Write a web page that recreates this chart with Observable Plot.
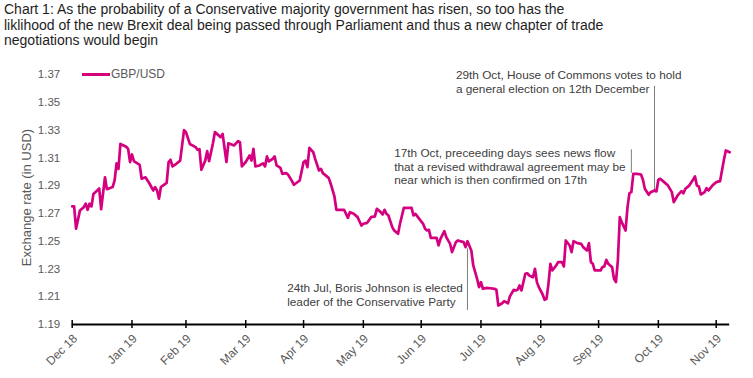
<!DOCTYPE html>
<html><head><meta charset="utf-8">
<script src="https://cdn.jsdelivr.net/npm/d3@7"></script>
<script src="https://cdn.jsdelivr.net/npm/@observablehq/plot@0.6"></script>
<style>
body{margin:0;background:#fff;font-family:Arial,"Liberation Sans",sans-serif;}
#wrap{position:relative;width:753px;height:378px;overflow:hidden;background:#fff;}
#title{height:58px;box-sizing:border-box;padding:2px 0 0 4px;font-size:14px;line-height:15.5px;color:#1e1e1e;white-space:nowrap;}
#legend{position:absolute;left:82px;top:67px;height:14px;font-size:12px;line-height:14px;color:#595959;}
#legend .sw{position:absolute;left:0;top:5.8px;width:27.6px;height:3px;background:#d4007f;}
#legend .lb{position:absolute;left:29px;top:0;white-space:nowrap;}
</style>
</head><body>
<div id="wrap">
<div id="title"></div>
<div id="chart"></div>
<div id="legend"><div class="sw"></div><div class="lb"></div></div>
</div>
<script>
const titleLines = [
  "Chart 1: As the probability of a Conservative majority government has risen, so too has the",
  "liklihood of the new Brexit deal being passed through Parliament and thus a new chapter of trade",
  "negotiations would begin"
];
const seriesName = "GBP/USD";
const dates = ["2018-12-31","2019-01-01","2019-01-02","2019-01-04","2019-01-06","2019-01-07","2019-01-08","2019-01-09","2019-01-10","2019-01-11",
"2019-01-13","2019-01-14","2019-01-15","2019-01-17","2019-01-18","2019-01-21","2019-01-22","2019-01-23","2019-01-24","2019-01-25",
"2019-01-28","2019-01-29","2019-01-30","2019-01-31","2019-02-01","2019-02-04","2019-02-05","2019-02-07","2019-02-09","2019-02-11",
"2019-02-12","2019-02-13","2019-02-14","2019-02-15","2019-02-16","2019-02-18","2019-02-19","2019-02-20","2019-02-21","2019-02-23",
"2019-02-25","2019-02-27","2019-02-28","2019-03-02","2019-03-05","2019-03-06","2019-03-07","2019-03-08","2019-03-10","2019-03-11",
"2019-03-12","2019-03-14","2019-03-15","2019-03-18","2019-03-19","2019-03-21","2019-03-22","2019-03-25","2019-03-27","2019-03-28",
"2019-03-29","2019-03-31","2019-04-02","2019-04-03","2019-04-04","2019-04-05","2019-04-07","2019-04-09","2019-04-10","2019-04-11",
"2019-04-12","2019-04-14","2019-04-15","2019-04-16","2019-04-18","2019-04-19","2019-04-21","2019-04-22","2019-04-24","2019-04-25",
"2019-04-28","2019-04-30","2019-05-01","2019-05-02","2019-05-03","2019-05-05","2019-05-06","2019-05-08","2019-05-09","2019-05-10",
"2019-05-13","2019-05-14","2019-05-16","2019-05-17","2019-05-20","2019-05-21","2019-05-23","2019-05-24","2019-05-26","2019-05-28",
"2019-05-30","2019-05-31","2019-06-02","2019-06-04","2019-06-06","2019-06-07","2019-06-09","2019-06-10","2019-06-11","2019-06-12",
"2019-06-13","2019-06-15","2019-06-16","2019-06-18","2019-06-19","2019-06-21","2019-06-22","2019-06-25","2019-06-26","2019-06-27",
"2019-06-29","2019-07-01","2019-07-02","2019-07-03","2019-07-04","2019-07-05","2019-07-07","2019-07-08","2019-07-09","2019-07-10",
"2019-07-12","2019-07-13","2019-07-15","2019-07-16","2019-07-18","2019-07-19","2019-07-22","2019-07-23","2019-07-24","2019-07-26",
"2019-07-27","2019-07-29","2019-07-30","2019-07-31","2019-08-01","2019-08-03","2019-08-05","2019-08-07","2019-08-08","2019-08-09",
"2019-08-11","2019-08-12","2019-08-14","2019-08-15","2019-08-17","2019-08-18","2019-08-19","2019-08-20","2019-08-21","2019-08-23",
"2019-08-24","2019-08-25","2019-08-27","2019-08-28","2019-08-29","2019-08-30","2019-09-01","2019-09-02","2019-09-03","2019-09-04",
"2019-09-05","2019-09-06","2019-09-08","2019-09-09","2019-09-11","2019-09-12","2019-09-13","2019-09-15","2019-09-16","2019-09-17",
"2019-09-19","2019-09-21","2019-09-22","2019-09-24","2019-09-25","2019-09-26","2019-09-27","2019-09-28","2019-09-29","2019-10-01",
"2019-10-02","2019-10-03","2019-10-04","2019-10-05","2019-10-06","2019-10-07","2019-10-08","2019-10-09","2019-10-10","2019-10-11",
"2019-10-12","2019-10-14","2019-10-15","2019-10-16","2019-10-17","2019-10-18","2019-10-20","2019-10-22","2019-10-23","2019-10-24",
"2019-10-26","2019-10-27","2019-10-29","2019-10-30","2019-10-31","2019-11-01","2019-11-03","2019-11-05","2019-11-07","2019-11-08",
"2019-11-10","2019-11-12","2019-11-13","2019-11-14","2019-11-16","2019-11-18","2019-11-19","2019-11-20","2019-11-21","2019-11-22",
"2019-11-24","2019-11-25","2019-11-26","2019-11-28","2019-11-30","2019-12-02","2019-12-03","2019-12-04","2019-12-05","2019-12-07"];
const rates = [1.275,1.275,1.259,1.272,1.2745,1.277,1.2726,1.277,1.275,1.284,
1.2865,1.288,1.273,1.296,1.2874,1.289,1.2937,1.306,1.302,1.320,
1.318,1.3165,1.3069,1.3124,1.3076,1.305,1.295,1.296,1.2917,1.2865,
1.2889,1.2865,1.2805,1.289,1.290,1.292,1.3069,1.3086,1.3038,1.3057,
1.308,1.330,1.3285,1.320,1.3177,1.3158,1.3162,1.3014,1.308,1.3148,
1.3076,1.3205,1.3285,1.3249,1.3273,1.307,1.3205,1.3189,1.322,1.3212,
1.3038,1.307,1.3117,1.308,1.3165,1.3038,1.3045,1.306,1.3038,1.311,
1.3074,1.3093,1.311,1.3045,1.3028,1.2985,1.299,1.2978,1.2932,1.2906,
1.2937,1.307,1.308,1.3033,1.3172,1.3141,1.3093,1.3009,1.3021,1.299,
1.2956,1.2917,1.2822,1.2726,1.2726,1.2726,1.2668,1.2709,1.2697,1.2673,
1.2613,1.2625,1.2632,1.2673,1.2678,1.2733,1.2709,1.2692,1.2726,1.2697,
1.2685,1.2601,1.2577,1.2553,1.2625,1.274,1.274,1.274,1.2685,1.2697,
1.2661,1.2625,1.259,1.2577,1.2582,1.2524,1.2524,1.2524,1.2469,1.2517,
1.2572,1.2529,1.2481,1.2421,1.2493,1.2505,1.2493,1.2457,1.25,1.2433,
1.2325,1.2229,1.2169,1.2205,1.2157,1.2164,1.2161,1.2157,1.215,1.2037,
1.2053,1.2068,1.2053,1.2102,1.215,1.2145,1.215,1.2181,1.2145,1.2265,
1.2269,1.2253,1.224,1.2301,1.2205,1.2169,1.2116,1.2078,1.2085,1.2193,
1.2337,1.2289,1.2325,1.2349,1.2349,1.2318,1.2505,1.2469,1.2421,1.25,
1.2486,1.2481,1.2457,1.2433,1.2486,1.2349,1.2337,1.2289,1.2289,1.2289,
1.2313,1.2318,1.2366,1.2337,1.2325,1.2313,1.2229,1.2205,1.2361,1.2673,
1.2637,1.2577,1.2745,1.2846,1.2853,1.2985,1.2985,1.298,1.2942,1.2877,
1.2834,1.2853,1.2865,1.2858,1.2942,1.2949,1.2925,1.29,1.2853,1.2781,
1.2829,1.286,1.2845,1.2877,1.29,1.2942,1.2966,1.29,1.2894,1.2836,
1.2853,1.2882,1.2865,1.29,1.2925,1.2932,1.3009,1.3086,1.3153,1.314];

const xDomain = ["2018-12-31","2019-12-07"];
const tickDates = ["2018-12-31","2019-01-31","2019-02-28","2019-03-31","2019-04-30","2019-05-31","2019-06-30","2019-07-31","2019-08-31","2019-09-30","2019-10-31","2019-11-30"];
const tickLabels = ["Dec 18","Jan 19","Feb 19","Mar 19","Apr 19","May 19","Jun 19","Jul 19","Aug 19","Sep 19","Oct 19","Nov 19"];
const yTicks = [1.19,1.21,1.23,1.25,1.27,1.29,1.31,1.33,1.35,1.37];
const yLabel = "Exchange rate (in USD)";

const noteTexts = [
  "24th Jul, Boris Johnson is elected\nleader of the Conservative Party",
  "17th Oct, preceeding days sees news flow\nthat a revised withdrawal agreement may be\nnear which is then confirmed on 17th",
  "29th Oct, House of Commons votes to hold\na general election on 12th December"
];
const noteDates = ["2019-04-21T12:00Z","2019-06-16","2019-07-18"];
const noteValues = [1.2118, 1.3041, 1.3651];
const eventDates = ["2019-07-24","2019-10-17","2019-10-29"];
const eventTop = [1.2445, 1.3158, 1.3614];
const eventBottom = [1.2001, 1.2989, 1.2865];

document.getElementById("title").innerHTML = titleLines.join("<br>");
document.querySelector("#legend .lb").textContent = seriesName;

const data = dates.map((d, i) => ({date: new Date(d), rate: rates[i]}));
const notes = noteTexts.map((t, i) => ({text: t, date: new Date(noteDates[i]), value: noteValues[i]}));
const events = eventDates.map((d, i) => ({date: new Date(d), top: eventTop[i], bottom: eventBottom[i]}));
const tickDateObjs = tickDates.map(d => new Date(d));
const labelByTime = new Map(tickDateObjs.map((d, i) => [+d, tickLabels[i]]));

const chart = Plot.plot({
  width: 753, height: 320,
  marginLeft: 71.7, marginRight: 23.8, marginTop: 16, marginBottom: 54,
  style: {fontFamily: "Arial, 'Liberation Sans', sans-serif", color: "#595959", background: "#fff", overflow: "visible"},
  x: {type: "utc", domain: xDomain.map(d => new Date(d))},
  y: {domain: [1.19, 1.37]},
  marks: [
    Plot.axisY(yTicks, {tickSize: 0, tickPadding: 12, tickFormat: d => d.toFixed(2), fontSize: 11.5, label: null}),
    Plot.text([yLabel], {frameAnchor: "left", textAnchor: "middle", lineAnchor: "middle", dx: -45, dy: -2, rotate: -90, fontSize: 13, fill: "#595959"}),
    Plot.ruleX(events, {x: "date", y1: "top", y2: "bottom", stroke: "#7f7f7f", strokeWidth: 1}),
    Plot.line(data, {x: "date", y: "rate", stroke: "#d4007f", strokeWidth: 2.7, strokeLinejoin: "round"}),
    Plot.ruleY([1.19], {stroke: "#000", strokeWidth: 2}),
    Plot.tickX(tickDateObjs, {x: d => d, stroke: "#000", strokeWidth: 1.5, insetTop: 246, insetBottom: -4}),
    Plot.axisX(tickDateObjs, {tickSize: 0, tickRotate: -45, tickPadding: 12, dx: 3, tickFormat: d => labelByTime.get(+d), fontSize: 12, fill: "#595959", label: null}),
    Plot.text(notes, {x: "date", y: "value", text: "text", textAnchor: "start", lineAnchor: "middle", lineHeight: 14/11.8, fontSize: 11.8, fill: "#404040"})
  ]
});
document.getElementById("chart").appendChild(chart);
</script>
</body></html>
